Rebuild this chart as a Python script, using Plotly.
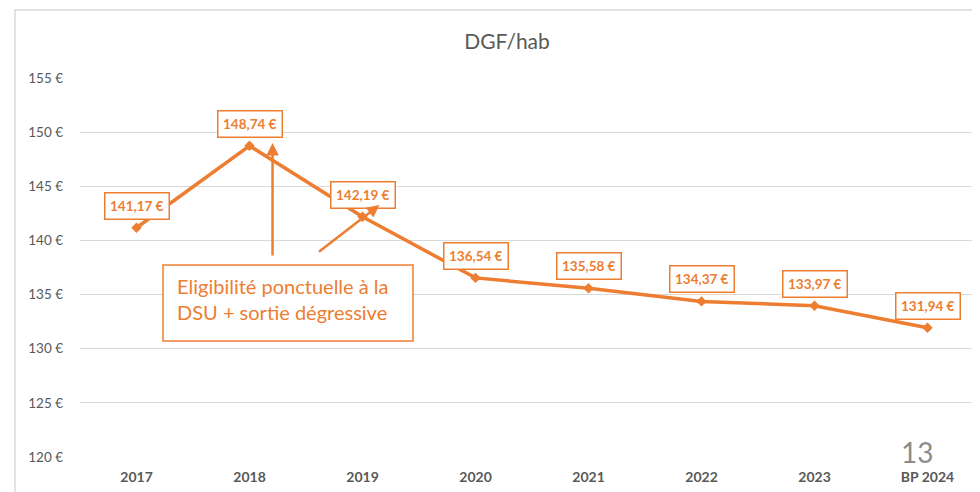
import plotly.graph_objects as go

categories = ["2017", "2018", "2019", "2020", "2021", "2022", "2023", "BP 2024"]
values = [141.17, 148.74, 142.19, 136.54, 135.58, 134.37, 133.97, 131.94]
y_ticks = [120, 125, 130, 135, 140, 145, 150, 155]
y_tick_labels = [f"{v} €" for v in y_ticks]
title_text = "DGF/hab"
note_text = "Eligibilité ponctuelle à la<br>DSU + sortie dégressive"
page_number = "13"

ORANGE = "#ED7D31"
GREY = "#595959"
FONT = "Lato"

# page body has an 8px margin; work in reference (window) pixel coords and shift
OFF = 8
W, H = 980, 492
L = 80 - OFF
R = W - (980 - OFF)
T = 78 - OFF
B = H - (457 - OFF)
PW, PH = W - L - R, H - T - B


def px_to_paper(px, py):
    # px, py in reference (window) pixel coordinates
    return (px - OFF - L) / PW, (H - B - (py - OFF)) / PH


def fmt(v):
    return f"{v:.2f}".replace(".", ",") + " €"


fig = go.Figure()
fig.add_trace(go.Scatter(
    x=list(range(len(categories))), y=values, mode="lines+markers",
    line=dict(color=ORANGE, width=3.5),
    marker=dict(symbol="diamond", size=8, color=ORANGE),
    hoverinfo="skip", showlegend=False,
))

annotations = []
for i, v in enumerate(values):
    annotations.append(dict(
        x=i, y=v, xref="x", yref="y", text=f"<b>{fmt(v)}</b>", showarrow=False,
        yshift=22, font=dict(family=FONT, size=13.5, color=ORANGE),
        bgcolor="white", bordercolor=ORANGE, borderwidth=1.5, borderpad=4.5,
    ))

# arrows
annotations.append(dict(
    x=1.204, y=149.0, xref="x", yref="y", ax=0, ay=114,
    text="", showarrow=True, arrowhead=2, arrowsize=1, arrowwidth=2.5, arrowcolor=ORANGE,
))
annotations.append(dict(
    x=2.15, y=143.27, xref="x", yref="y", ax=-62, ay=48,
    text="", showarrow=True, arrowhead=2, arrowsize=1, arrowwidth=2.5, arrowcolor=ORANGE,
))

# note text box
nx, ny = px_to_paper(175, 299)
annotations.append(dict(
    x=nx, y=ny, xref="paper", yref="paper", xanchor="left", yanchor="middle",
    text=note_text, showarrow=False, align="left",
    font=dict(family=FONT, size=20, color=ORANGE),
))

# page number
px_, py_ = px_to_paper(917, 452)
annotations.append(dict(
    x=px_, y=py_, xref="paper", yref="paper", xanchor="center", yanchor="middle",
    text=page_number, showarrow=False, font=dict(family=FONT, size=28, color="#8c8c8c"),
))

shapes = []
bx0, by0 = px_to_paper(163, 341)
bx1, by1 = px_to_paper(413, 265)
shapes.append(dict(type="rect", xref="paper", yref="paper", x0=bx0, y0=by0, x1=bx1, y1=by1,
                   line=dict(color=ORANGE, width=1.5), fillcolor="white", layer="above"))
# outer chart border
ox0, oy0 = px_to_paper(15, 510)
ox1, oy1 = px_to_paper(1000, 10)
shapes.append(dict(type="rect", xref="paper", yref="paper", x0=ox0, y0=oy0, x1=ox1, y1=oy1,
                   line=dict(color="#d9d9d9", width=1.5), fillcolor="rgba(0,0,0,0)", layer="below"))

fig.update_layout(
    width=W, height=H,
    margin=dict(l=L, r=R, t=T, b=B),
    paper_bgcolor="white", plot_bgcolor="white",
    title=dict(text=title_text, x=(507 - OFF) / W, xanchor="center", y=1 - (42 - OFF) / H,
               yanchor="middle", font=dict(family=FONT, size=21, color=GREY)),
    xaxis=dict(
        range=[-0.5, -0.5 + PW / 113.0],
        tickmode="array", tickvals=list(range(len(categories))), ticktext=categories,
        showgrid=False, zeroline=False, showline=False,
        tickfont=dict(family=FONT, size=14, color=GREY, weight="bold"),
        ticks="", ticklabelstandoff=10,
    ),
    yaxis=dict(
        range=[120, 155], tickmode="array", tickvals=y_ticks, ticktext=y_tick_labels,
        showgrid=True, gridcolor="#d9d9d9", gridwidth=1.2, zeroline=False, showline=False,
        tickfont=dict(family=FONT, size=13.5, color=GREY),
        ticks="", ticklabelstandoff=16,
    ),
    annotations=annotations,
    shapes=shapes,
    font=dict(family=FONT),
)

fig.write_html("out.html")
